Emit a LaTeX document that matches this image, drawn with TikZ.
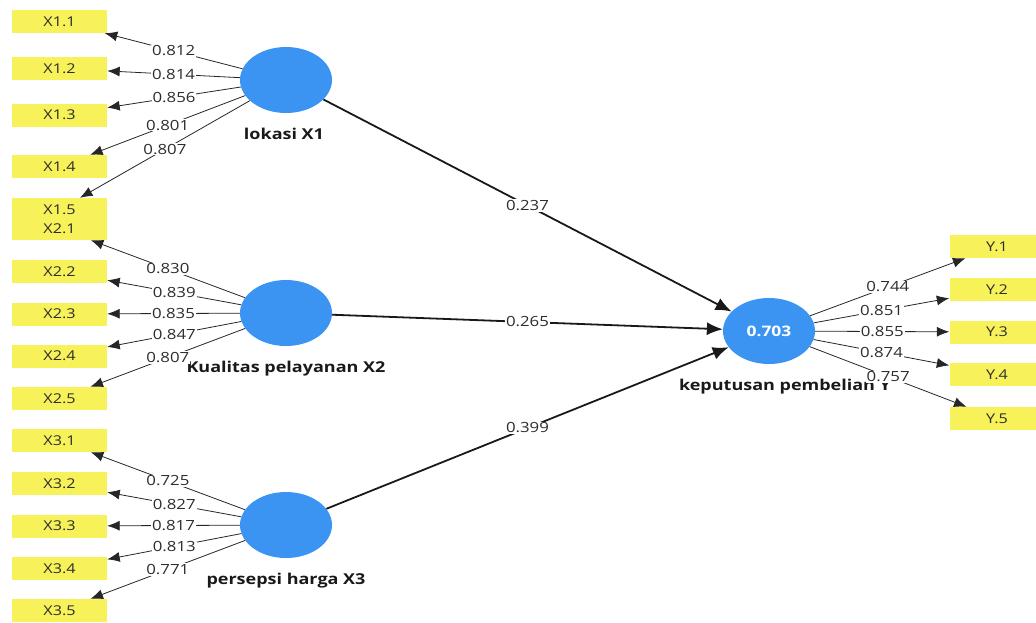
\documentclass[tikz,border=0pt]{standalone}
\usepackage{fontspec}
\setmainfont[FakeStretch=1.2]{Open Sans}
\usetikzlibrary{arrows.meta,shapes.geometric}
\definecolor{indyellow}{RGB}{247,242,90}
\definecolor{latblue}{RGB}{59,148,242}
\definecolor{txtgray}{RGB}{45,45,45}

\begin{document}
\begin{tikzpicture}[x=1pt,y=-1pt,
  ind/.style={fill=indyellow, minimum width=95pt, minimum height=23pt, inner sep=0pt,
    text=txtgray, font=\fontsize{13.5}{13.5}\selectfont},
  lat/.style={ellipse, fill=latblue, minimum width=92pt, minimum height=66pt, inner sep=0pt},
  latname/.style={anchor=base, font=\bfseries\fontsize{15}{15}\selectfont, text=black!90},
  load/.style={-{Latex[length=12.5pt,width=10pt]}, line width=0.8pt, draw=black!85},
  regr/.style={-{Latex[length=16pt,width=13pt]}, line width=1.8pt, draw=black!90},
  val/.style={fill=white, inner sep=1pt, text=txtgray, font=\fontsize{14}{14}\selectfont},
]
\useasboundingbox (0,0) rectangle (1036,622);

% indicator boxes, left
\node[ind] (i11) at (59.5,21.5)  {X1.1};
\node[ind] (i12) at (59.5,68.5)  {X1.2};
\node[ind] (i13) at (59.5,115)   {X1.3};
\node[ind] (i14) at (59.5,166.5) {X1.4};
\node[ind] (i15) at (59.5,209.5) {X1.5};
\node[ind] (i21) at (59.5,228.5) {X2.1};
\node[ind] (i22) at (59.5,271.5) {X2.2};
\node[ind] (i23) at (59.5,314)   {X2.3};
\node[ind] (i24) at (59.5,356)   {X2.4};
\node[ind] (i25) at (59.5,398.5) {X2.5};
\node[ind] (i31) at (59.5,440.5) {X3.1};
\node[ind] (i32) at (59.5,483.5) {X3.2};
\node[ind] (i33) at (59.5,526)   {X3.3};
\node[ind] (i34) at (59.5,568.5) {X3.4};
\node[ind] (i35) at (59.5,610.5) {X3.5};

% indicator boxes, right
\node[ind] (iy1) at (997,246.5) {Y.1};
\node[ind] (iy2) at (997,289.5) {Y.2};
\node[ind] (iy3) at (997,332)   {Y.3};
\node[ind] (iy4) at (997,374.5) {Y.4};
\node[ind] (iy5) at (997,418.5) {Y.5};

% latent variables
\node[lat] (x1) at (286,80)  {};
\node[lat] (x2) at (286,313) {};
\node[lat] (x3) at (286,525) {};
\node[lat, text=white, font=\bfseries\fontsize{14.5}{14.5}\selectfont] (y) at (769,331) {0.703};

\node[latname] (nx1) at (284,139) {lokasi X1};
\node[latname] (nx2) at (286,372) {Kualitas pelayanan X2};
\node[latname] (nx3) at (286,584) {persepsi harga X3};
\node[latname] (ny)  at (785,390) {keputusan pembelian Y};

% outer loadings
\draw[load] (x1) -- node[val] {0.812} (i11);
\draw[load] (x1) -- node[val] {0.814} (i12);
\draw[load] (x1) -- node[val] {0.856} (i13);
\draw[load] (x1) -- node[val] {0.801} (i14);
\draw[load] (x1) -- node[val] {0.807} (i15);

\draw[load] (x2) -- node[val] {0.830} (i21);
\draw[load] (x2) -- node[val] {0.839} (i22);
\draw[load] (x2) -- node[val] {0.835} (i23);
\draw[load] (x2) -- node[val] {0.847} (i24);
\draw[load] (x2) -- node[val] {0.807} (i25);

\draw[load] (x3) -- node[val] {0.725} (i31);
\draw[load] (x3) -- node[val] {0.827} (i32);
\draw[load] (x3) -- node[val] {0.817} (i33);
\draw[load] (x3) -- node[val] {0.813} (i34);
\draw[load] (x3) -- node[val] {0.771} (i35);

\draw[load] (y) -- node[val] {0.744} (iy1);
\draw[load] (y) -- node[val] {0.851} (iy2);
\draw[load] (y) -- node[val] {0.855} (iy3);
\draw[load] (y) -- node[val] {0.874} (iy4);
\draw[load] (y) -- node[val] {0.757} (iy5);

% path coefficients
\draw[regr] (x1) -- node[val] {0.237} (y);
\draw[regr] (x2) -- node[val] {0.265} (y);
\draw[regr] (x3) -- node[val] {0.399} (y);
\end{tikzpicture}
\end{document}
